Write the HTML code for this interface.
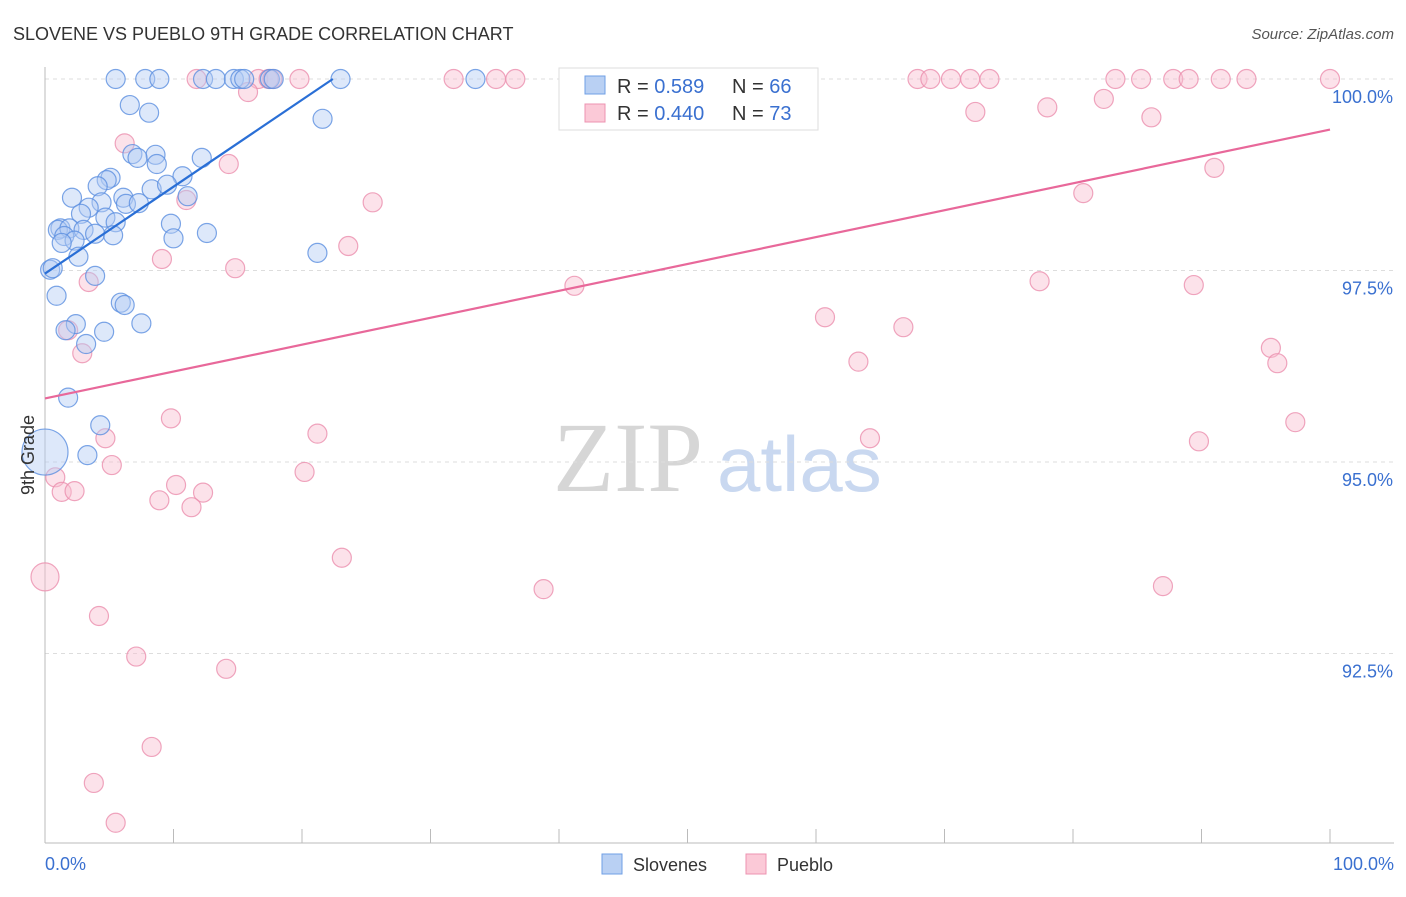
<!DOCTYPE html>
<html><head><meta charset="utf-8"><style>
body{margin:0;background:#fff;font-family:"Liberation Sans",sans-serif;}
svg text{font-family:"Liberation Sans",sans-serif;}
svg text.serif{font-family:"Liberation Serif",serif;}
</style></head><body>
<svg id="chart" width="1406" height="892" viewBox="0 0 1406 892">
<text x="13" y="40" font-size="18" fill="#333">SLOVENE VS PUEBLO 9TH GRADE CORRELATION CHART</text>
<text x="1394" y="39" font-size="15" fill="#555" font-style="italic" text-anchor="end">Source: ZipAtlas.com</text>
<g>
<text class="serif" x="553" y="491" font-size="100" fill="#d6d6d6">ZIP</text>
<text x="717" y="491" font-size="78" fill="#c9d8f0">atlas</text>
</g>
<g id="grid"></g>
<g id="axes"></g>
<g id="pts"></g>
<g id="trends"></g>
<text transform="translate(34,455) rotate(-90)" font-size="18" fill="#333" text-anchor="middle">9th Grade</text>
<g>
<rect x="559" y="68" width="259" height="62" fill="#fff" stroke="#ddd"/>
<rect x="585" y="76" width="20" height="18" fill="#b9d0f3" stroke="#6f9fe6"/>
<rect x="585" y="104" width="20" height="18" fill="#fbc9d7" stroke="#ec93b0"/>
<text x="617" y="93" font-size="20" fill="#333">R = <tspan fill="#3a70d0">0.589</tspan><tspan x="732">N = </tspan><tspan fill="#3a70d0">66</tspan></text>
<text x="617" y="120" font-size="20" fill="#333">R = <tspan fill="#3a70d0">0.440</tspan><tspan x="732">N = </tspan><tspan fill="#3a70d0">73</tspan></text>
</g>
<g>
<rect x="602" y="854" width="20" height="20" fill="#b9d0f3" stroke="#6f9fe6"/>
<text x="633" y="871" font-size="18" fill="#333">Slovenes</text>
<rect x="746" y="854" width="20" height="20" fill="#fbc9d7" stroke="#ec93b0"/>
<text x="777" y="871" font-size="18" fill="#333">Pueblo</text>
</g>
</svg>
<script>
const yTicks=[100,97.5,95,92.5];
const yTickLabels=["100.0%","97.5%","95.0%","92.5%"];
const xTickLabels=["0.0%","100.0%"];
const blueX=[5.5,7.8,8.9,12.3,13.3,14.7,15.2,15.5,17.5,17.8,23.0,33.5,6.6,8.1,21.6,6.8,8.6,7.2,8.7,12.2,10.7,5.1,4.8,4.1,8.3,9.5,2.1,4.4,6.1,6.3,11.1,7.3,3.4,2.8,4.7,5.5,1.2,1.0,1.9,3.0,9.8,3.9,1.5,2.3,5.3,10.0,12.6,1.3,2.6,21.2,0.4,0.6,3.9,0.9,5.9,6.2,7.5,2.4,1.6,4.6,3.2,1.8,4.3,3.3,0];
const blueY=[100,100,100,100,100,100,100,100,100,100,100,100,99.66,99.56,99.48,99.02,99.01,98.97,98.89,98.97,98.73,98.71,98.68,98.60,98.56,98.62,98.45,98.39,98.45,98.37,98.47,98.38,98.32,98.24,98.19,98.13,98.05,98.03,98.05,98.03,98.11,97.98,97.95,97.89,97.96,97.92,97.99,97.86,97.68,97.73,97.51,97.53,97.43,97.17,97.08,97.05,96.81,96.80,96.72,96.70,96.54,95.84,95.48,95.09,95.13];
const pinkX=[11.8,16.6,17.4,17.7,19.8,31.8,35.1,36.6,42.0,45.4,46.7,67.9,68.9,70.5,72.0,73.5,83.3,85.3,87.8,89.0,91.5,93.5,100,15.8,72.4,78.0,82.4,86.1,6.2,14.3,91.0,80.8,25.5,11.0,23.6,9.1,14.8,77.4,41.2,89.4,3.4,60.7,66.8,1.8,2.9,63.3,95.4,95.9,9.8,97.3,21.2,64.2,4.7,89.8,5.2,20.2,0.8,10.2,1.3,2.3,8.9,12.3,11.4,23.1,0,38.8,87.0,4.2,7.1,14.1,8.3,3.8,5.5];
const pinkY=[100,100,100,100,100,100,100,100,100,100,100,100,100,100,100,100,100,100,100,100,100,100,100,99.83,99.57,99.63,99.74,99.50,99.16,98.89,98.84,98.51,98.39,98.42,97.82,97.65,97.53,97.36,97.30,97.31,97.35,96.89,96.76,96.72,96.42,96.31,96.49,96.29,95.57,95.52,95.37,95.31,95.31,95.27,94.96,94.87,94.80,94.70,94.61,94.62,94.50,94.60,94.41,93.75,93.50,93.34,93.38,92.99,92.46,92.30,91.28,90.81,90.29];
const blueTrendX=[0,22.4];
const blueTrendY=[97.46,100];
const pinkTrendX=[0,100];
const pinkTrendY=[95.83,99.34];

const NS="http://www.w3.org/2000/svg";
const X0=45,X1=1330,Y100=79,PX_PER=76.6;
function sx(v){return X0+(X1-X0)*v/100;}
function sy(v){return Y100+(100-v)*PX_PER;}
function mk(tag,attrs,parent){const e=document.createElementNS(NS,tag);for(const k in attrs)e.setAttribute(k,attrs[k]);parent.appendChild(e);return e;}
const grid=document.getElementById('grid'),axes=document.getElementById('axes'),pts=document.getElementById('pts'),tr=document.getElementById('trends');
yTicks.forEach((t,i)=>{
 const l=mk('line',{x1:X0,x2:1394,y1:sy(t),y2:sy(t),stroke:'#ddd','stroke-dasharray':'4,4'},grid);
 
 
 const tx=mk('text',{x:1393,y:sy(t)+24,'font-size':18,fill:'#3a70d0','text-anchor':'end'},axes);
 tx.textContent=yTickLabels[i];
 
 
});
const ya=mk('line',{x1:X0,x2:X0,y1:67,y2:843,stroke:'#bbb'},axes);


const xa=mk('line',{x1:X0,x2:1394,y1:843,y2:843,stroke:'#bbb'},axes);


for(let i=0;i<=10;i++){
 const t=mk('line',{x1:sx(i*10),x2:sx(i*10),y1:829,y2:843,stroke:'#bbb'},axes);
 
 
}
const xl0=mk('text',{x:45,y:870,'font-size':18,fill:'#3a70d0'},axes);xl0.textContent=xTickLabels[0];


const xl1=mk('text',{x:1394,y:870,'font-size':18,fill:'#3a70d0','text-anchor':'end'},axes);xl1.textContent=xTickLabels[1];


function drawPts(xs,ys,fill,stroke,name){
 xs.forEach((v,i)=>{
  let r=9.5;
  if(v===0&&name==='slovene-point')r=23;
  if(v===0&&name==='pueblo-point')r=14;
  const c=mk('circle',{cx:sx(v),cy:sy(ys[i]),r:r,fill:fill,'fill-opacity':0.45,stroke:stroke,'stroke-width':1.2,'stroke-opacity':0.8},pts);
  
  
 });
}
drawPts(pinkX,pinkY,'#f8bfd0','#eb8fae','pueblo-point');
drawPts(blueX,blueY,'#b3cdf3','#5b8fe0','slovene-point');
const bl=mk('line',{x1:sx(blueTrendX[0]),y1:sy(blueTrendY[0]),x2:sx(blueTrendX[1]),y2:sy(blueTrendY[1]),stroke:'#2a6fd6','stroke-width':2.2},tr);


const pl=mk('line',{x1:sx(pinkTrendX[0]),y1:sy(pinkTrendY[0]),x2:sx(pinkTrendX[1]),y2:sy(pinkTrendY[1]),stroke:'#e8689a','stroke-width':2.2},tr);


</script>
</body></html>
